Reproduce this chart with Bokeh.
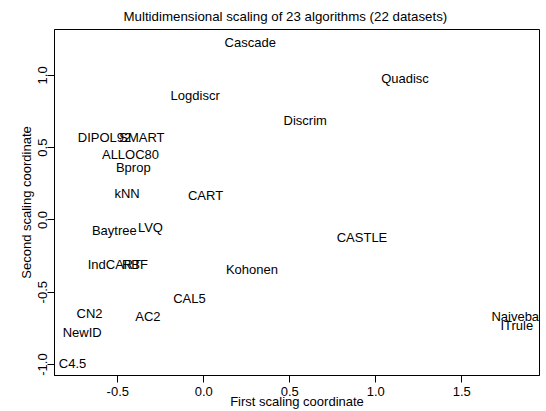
from bokeh.plotting import figure
from bokeh.models import Range1d, FixedTicker, CustomJSTickFormatter, ColumnDataSource, LabelSet
from bokeh.core.properties import value
from bokeh.embed import file_html
from bokeh.resources import INLINE

algorithms = ["Cascade", "Quadisc", "Logdiscr", "Discrim", "DIPOL92", "SMART",
              "ALLOC80", "Bprop", "kNN", "CART", "Baytree", "LVQ", "IndCART",
              "RBF", "Kohonen", "CASTLE", "CAL5", "AC2", "CN2", "NewID", "C4.5",
              "Naivebay", "ITrule"]
coord1 = [0.27, 1.17, -0.05, 0.59, -0.577, -0.36,
          -0.426, -0.41, -0.446, 0.01, -0.52, -0.31, -0.52,
          -0.40, 0.28, 0.92, -0.083, -0.325, -0.664, -0.707, -0.763,
          1.83, 1.82]
coord2 = [1.23, 0.98, 0.86, 0.69, 0.57, 0.57,
          0.455, 0.36, 0.18, 0.166, -0.07, -0.05, -0.31,
          -0.31, -0.34, -0.12, -0.54, -0.67, -0.65, -0.78, -0.99,
          -0.67, -0.73]
x_ticks = [-0.5, 0.0, 0.5, 1.0, 1.5]
y_ticks = [-1.0, -0.5, 0.0, 0.5, 1.0]

FONT = "Liberation Sans"

p = figure(width=546, height=411, output_backend="svg", toolbar_location=None,
           x_range=Range1d(-0.868, 1.952), y_range=Range1d(-1.076, 1.317),
           title="Multidimensional scaling of 23 algorithms (22 datasets)",
           min_border_left=54, min_border_right=7, min_border_top=28,
           min_border_bottom=36)

p.title.text_font = FONT
p.title.text_font_size = "13.3px"
p.title.text_font_style = "normal"
p.title.align = "left"
p.title.offset = 69
p.title.standoff = 12
p.title.text_color = "black"

p.grid.visible = False
p.outline_line_color = "black"
p.outline_line_width = 1
p.background_fill_color = "white"
p.border_fill_color = "white"

fmt = CustomJSTickFormatter(code="return tick.toFixed(1);")
for ax, ticks, lab in ((p.xaxis[0], x_ticks, "First scaling coordinate"),
                       (p.yaxis[0], y_ticks, "Second scaling coordinate")):
    ax.ticker = FixedTicker(ticks=ticks)
    ax.formatter = fmt
    ax.axis_label = lab
    ax.axis_label_text_font = FONT
    ax.axis_label_text_font_size = "13px"
    ax.axis_label_text_font_style = "normal"
    ax.major_label_text_font = FONT
    ax.major_label_text_font_size = "13px"
    ax.major_tick_out = 7
    ax.major_tick_in = 0
    ax.minor_tick_out = 0
    ax.minor_tick_in = 0
    ax.axis_line_color = "black"
    ax.major_tick_line_color = "black"
    ax.major_label_text_color = "black"
    ax.axis_label_text_color = "black"

p.xaxis.major_label_standoff = 4
p.xaxis.axis_label_standoff = -5
p.yaxis.major_label_orientation = "vertical"
p.yaxis.major_label_standoff = 0
p.yaxis.axis_label_standoff = 2

src = ColumnDataSource(dict(x=coord1, y=coord2, name=algorithms))
labels = LabelSet(x="x", y="y", text="name", source=src, text_align="center",
                  text_baseline="middle", text_font=value(FONT),
                  text_font_size=value("13px"), text_color=value("black"))
p.add_layout(labels)

open("out.html", "w").write(file_html(p, INLINE))
